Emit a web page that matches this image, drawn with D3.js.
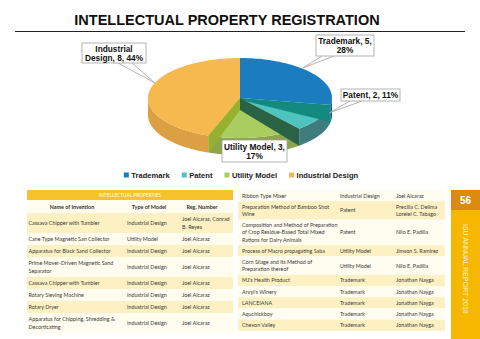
<!DOCTYPE html>
<html>
<head>
<meta charset="utf-8">
<script src="https://cdn.jsdelivr.net/npm/d3@7"></script>
<style>
  body { margin: 0; background: #fff; }
  svg { display: block; }
</style>
</head>
<body>
<div id="chart"></div>
<script>
// pie data
const categories = ["Trademark", "Patent", "Utility Model", "Industrial Design"];
const counts = [5, 2, 3, 8];
const percentLabels = ["28%", "11%", "17%", "44%"];
const topColours = ["#1c7cc0", "#4dc4bf", "#a9ce5f", "#f5b94f"];
const sideColours = ["#165f95", "#3e7c7e", "#8ea64a", "#dba043"];
const wallColours = ["#14897f", "#2a6246", "#97b02f"];

// table data
const leftNames = ["Cassava Chipper with Tumbler", "Cane Type Magnetic San Collector", "Apparatus for Black Sand Collector",
  "Prime Mover-Driven Magnetic Sand\nSeparator", "Cassava Chipper with Tumbler", "Rotary Sieving Machine", "Rotary Dryer",
  "Apparatus for Chipping, Shredding &\nDecorticating"];
const leftTypes = ["Industrial Design", "Utility Model", "Industrial Design", "Industrial Design", "Industrial Design",
  "Industrial Design", "Industrial Design", "Industrial Design"];
const leftRegs = ["Joel Alcaraz, Conrad\nB. Reyes", "Joel Alcaraz", "Joel Alcaraz", "Joel Alcaraz", "Joel Alcaraz",
  "Joel Alcaraz", "Joel Alcaraz", "Joel Alcaraz"];
const rightNames = ["Ribbon Type Mixer", "Preparation Method of Bamboo Shot\nWine",
  "Composition and Method of Preparation\nof Crop Residue-Based Total Mixed\nRations for Dairy Animals",
  "Process of Macro propagating Saba", "Corn Silage and its Method of\nPreparation thereof", "MJ's Health Product",
  "Arvyl's Winery", "LANCEIANA", "Aquchickboy", "Chevon Valley"];
const rightTypes = ["Industrial Design", "Patent", "Patent", "Utility Model", "Utility Model", "Trademark", "Trademark",
  "Trademark", "Trademark", "Trademark"];
const rightRegs = ["Joel Alcaraz", "Precilla C. Delima\nLorelei C. Tabago", "Nilo E. Padilla", "Jimson S. Ramirez",
  "Nilo E. Padilla", "Jonathan Nayga", "Jonathan Nayga", "Jonathan Nayga", "Jonathan Nayga", "Jonathan Nayga"];
const tableHeaders = ["Name of Invention", "Type of Model", "Reg. Number"];

const W = 480, H = 339;
const svg = d3.select("#chart").append("svg").attr("width", W).attr("height", H);

// TITLE
svg.append("text")
  .attr("x", 227).attr("y", 25)
  .attr("text-anchor", "middle")
  .attr("font-family", "Liberation Sans, Arial, sans-serif")
  .attr("font-weight", "bold").attr("font-size", 14.5)
  .attr("fill", "#111")
  .text("INTELLECTUAL PROPERTY REGISTRATION");
svg.append("line")
  .attr("x1", 15).attr("x2", 465).attr("y1", 31.5).attr("y2", 31.5)
  .attr("stroke", "#222").attr("stroke-width", 1);

// 3D PIE
const cx = 240, cy = 98, rx = 92, ry = 40, depth = 17;
const sx = d3.scaleLinear().domain([-1, 1]).range([cx - rx, cx + rx]);
const sy = d3.scaleLinear().domain([-1, 1]).range([cy - ry, cy + ry]);
const pt = (a, dz = 0) => [sx(Math.sin(a)), sy(-Math.cos(a)) + dz];
function arcPts(a0, a1, dz) {
  const n = Math.max(2, Math.ceil((a1 - a0) / 0.03));
  return d3.range(n + 1).map(i => pt(a0 + (a1 - a0) * i / n, dz));
}
const line = d3.line();
const slices = d3.pie().sort(null).value(d => d)(counts);
const pieG = svg.append("g");

// outer walls, only the front half shows
slices.forEach((s, i) => {
  const lo = Math.max(s.startAngle, Math.PI / 2), hi = Math.min(s.endAngle, 3 * Math.PI / 2);
  if (hi <= lo) return;
  const pts = arcPts(lo, hi, 0).concat(arcPts(lo, hi, depth).reverse());
  pieG.append("path").attr("d", line(pts) + "Z").attr("fill", sideColours[i]);
});
// top faces
slices.forEach((s, i) => {
  const pts = [[cx, cy]].concat(arcPts(s.startAngle, s.endAngle, 0));
  pieG.append("path").attr("d", line(pts) + "Z").attr("fill", topColours[i]);
});
// inner walls at the slice borders
const wallDrop = [0.1, 0.7, 0.7];
slices.slice(1).forEach((s, i) => {
  const a = s.startAngle;
  const pts = [[cx, cy], pt(a, 0), pt(a, depth), [cx, cy + depth * wallDrop[i]]];
  pieG.append("path").attr("d", line(pts) + "Z").attr("fill", wallColours[i]);
});

// CALLOUT LABELS
const callouts = [
  { x: 316, y: 35, w: 58, h: 21, tip: [303, 68], base: [322, 334], firstLine: 2 },
  { x: 341, y: 89, w: 59, h: 12, tip: [329, 113], base: [350, 362], firstLine: 3 },
  { x: 222, y: 140, w: 65, h: 22, tip: null, base: null, firstLine: 3 },
  { x: 82, y: 43, w: 64, h: 20, tip: [155, 83], base: [118, 132], firstLine: 1 }
];
callouts.forEach((c, i) => {
  const words = `${categories[i]}, ${counts[i]}, ${percentLabels[i]}`.split(" ");
  const lines = [words.slice(0, c.firstLine).join(" "), words.slice(c.firstLine).join(" ")].filter(t => t);
  const g = svg.append("g");
  if (c.tip) {
    g.append("path")
      .attr("d", line([[c.base[0], c.y + c.h], c.tip, [c.base[1], c.y + c.h]]))
      .attr("fill", "#fff").attr("stroke", "#a0a0a0").attr("stroke-width", 0.8);
  }
  g.append("rect")
    .attr("x", c.x).attr("y", c.y).attr("width", c.w).attr("height", c.h)
    .attr("fill", "#fff").attr("stroke", "#a0a0a0").attr("stroke-width", 0.8);
  const lh = 9;
  const y0 = c.y + c.h / 2 - (lines.length - 1) * lh / 2 + 3;
  lines.forEach((t, k) => {
    g.append("text")
      .attr("x", c.x + c.w / 2).attr("y", y0 + k * lh)
      .attr("text-anchor", "middle")
      .attr("font-family", "Liberation Sans, Arial, sans-serif")
      .attr("font-weight", "bold").attr("font-size", 8.3)
      .attr("fill", "#111")
      .text(t);
  });
});

// LEGEND
const legend = svg.append("g");
let lx = 0;
categories.forEach((c, i) => {
  const item = legend.append("g").attr("transform", `translate(${lx},0)`);
  item.append("rect").attr("x", 0).attr("y", -4.5).attr("width", 5).attr("height", 5).attr("fill", topColours[i]);
  const t = item.append("text")
    .attr("x", 7.5).attr("y", 0.5)
    .attr("font-family", "Liberation Sans, Arial, sans-serif")
    .attr("font-weight", "bold").attr("font-size", 7.6)
    .attr("fill", "#222")
    .text(c);
  lx += 7.5 + t.node().getComputedTextLength() + 12;
});
legend.attr("transform", `translate(${241 - (lx - 12) / 2},177)`);

// TABLES
const tableFont = "Lato, 'Open Sans', sans-serif";
function drawTable(x0, x1, yStart, names, types, regs, colX, pad, lineH, firstYellow) {
  let y = yStart;
  names.forEach((n, i) => {
    const cells = [n, types[i], regs[i]].map(t => t.split("\n"));
    const nLines = d3.max(cells, c => c.length);
    const h = pad + nLines * lineH;
    svg.append("rect")
      .attr("x", x0).attr("y", y).attr("width", x1 - x0).attr("height", h)
      .attr("fill", (i % 2 === 0) === firstYellow ? "#fdf1c4" : "#fffcf0");
    cells.forEach((c, k) => {
      const top = y + h / 2 - (c.length - 1) * lineH / 2 + 1.9;
      c.forEach((t, j) => {
        svg.append("text")
          .attr("x", colX[k]).attr("y", top + j * lineH)
          .attr("font-family", tableFont).attr("font-size", 5.4)
          .attr("fill", "#3a3a3a")
          .text(t);
      });
    });
    y += h;
  });
}

// left table header
svg.append("rect").attr("x", 27).attr("y", 190).attr("width", 206).attr("height", 10).attr("fill", "#f6c22c");
svg.append("text")
  .attr("x", 130).attr("y", 197)
  .attr("text-anchor", "middle")
  .attr("font-family", tableFont).attr("font-size", 4.8)
  .attr("fill", "#fff")
  .text("INTELLECTUAL PROPERTIES");
svg.append("rect").attr("x", 27).attr("y", 200).attr("width", 206).attr("height", 13).attr("fill", "#fffcf0");
[72, 149, 202].forEach((x, k) => {
  svg.append("text")
    .attr("x", x).attr("y", 208.5)
    .attr("text-anchor", "middle")
    .attr("font-family", tableFont).attr("font-weight", "bold").attr("font-size", 5.4)
    .attr("fill", "#333")
    .text(tableHeaders[k]);
});
drawTable(27, 233, 213, leftNames, leftTypes, leftRegs, [28.5, 127, 182], 4, 8, true);
drawTable(238, 445, 190, rightNames, rightTypes, rightRegs, [242, 340, 396], 4, 7.2, false);

// SIDE BAR
svg.append("rect").attr("x", 451).attr("y", 190).attr("width", 29).attr("height", 20).attr("fill", "#da8b0f");
svg.append("text")
  .attr("x", 465.5).attr("y", 204)
  .attr("text-anchor", "middle")
  .attr("font-family", "Liberation Sans, Arial, sans-serif")
  .attr("font-weight", "bold").attr("font-size", 10)
  .attr("fill", "#fff")
  .text("56");
svg.append("rect").attr("x", 451).attr("y", 210).attr("width", 29).attr("height", 129).attr("fill", "#f6b700");
svg.append("text")
  .attr("transform", "translate(462.5,224) rotate(90)")
  .attr("font-family", "Liberation Sans, Arial, sans-serif")
  .attr("font-size", 7)
  .attr("fill", "#fff4c4")
  .text("ISU ANNUAL REPORT 2018");
</script>
</body>
</html>
